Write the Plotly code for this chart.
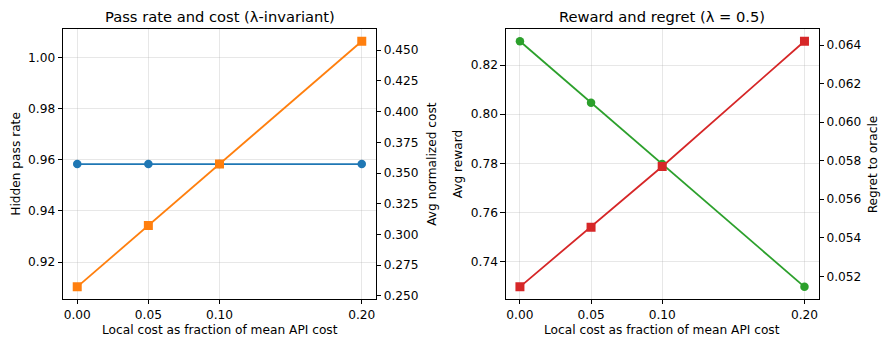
import plotly.graph_objects as go

x_vals = [0.00, 0.05, 0.10, 0.20]
x_ticks = ["0.00", "0.05", "0.10", "0.20"]
pass_rate = [0.9583, 0.9583, 0.9583, 0.9583]
avg_cost = [0.2573, 0.3073, 0.3573, 0.4573]
avg_reward = [0.8297, 0.8047, 0.7797, 0.7297]
regret = [0.05145, 0.05455, 0.05770, 0.06420]

W, H = 881, 341
FONT = "DejaVu Sans"
TICK = 12.2
BLUE, ORANGE, GREEN, RED = "#1f77b4", "#ff7f0e", "#2ca02c", "#d62728"
GRID = "rgba(176,176,176,0.3)"

def px_x(p):
    return p / W

def px_y(p):
    return 1 - p / H

top, bottom = 29.3, 302.7
L = (63.0, 376.0)
R = (505.7, 818.7)

fig = go.Figure()
mk_c = dict(symbol="circle", size=8.5)
mk_s = dict(symbol="square", size=9)
fig.add_trace(go.Scatter(x=x_vals, y=pass_rate, mode="lines+markers", line=dict(color=BLUE, width=1.8),
                         marker=dict(color=BLUE, **mk_c), xaxis="x", yaxis="y", showlegend=False))
fig.add_trace(go.Scatter(x=x_vals, y=avg_cost, mode="lines+markers", line=dict(color=ORANGE, width=1.8),
                         marker=dict(color=ORANGE, **mk_s), xaxis="x", yaxis="y2", showlegend=False))
fig.add_trace(go.Scatter(x=x_vals, y=avg_reward, mode="lines+markers", line=dict(color=GREEN, width=1.8),
                         marker=dict(color=GREEN, **mk_c), xaxis="x2", yaxis="y3", showlegend=False))
fig.add_trace(go.Scatter(x=x_vals, y=regret, mode="lines+markers", line=dict(color=RED, width=1.8),
                         marker=dict(color=RED, **mk_s), xaxis="x2", yaxis="y4", showlegend=False))

def xax(dom, anchor):
    return dict(domain=dom, anchor=anchor, range=[-0.01, 0.21], tickvals=x_vals, ticktext=x_ticks,
                showline=True, linecolor="black", linewidth=1, mirror=True,
                ticks="outside", ticklen=4.3, tickwidth=1, tickcolor="black",
                showgrid=True, gridcolor=GRID, gridwidth=1, zeroline=False,
                tickfont=dict(family=FONT, size=TICK, color="black"))

def yax(rng, tv, fmt, anchor, side="left", overlay=None, grid=True):
    d = dict(domain=[px_y(bottom), px_y(top)], anchor=anchor, range=rng, tickvals=tv,
             ticktext=[fmt.format(v) for v in tv], side=side,
             showline=True, linecolor="black", linewidth=1,
             ticks="outside", ticklen=4.3, tickwidth=1, tickcolor="black",
             showgrid=grid, gridcolor=GRID, gridwidth=1, zeroline=False,
             tickfont=dict(family=FONT, size=TICK, color="black"))
    if overlay:
        d["overlaying"] = overlay
    return d

y1_ticks = [0.92, 0.94, 0.96, 0.98, 1.00]
y2_ticks = [0.250, 0.275, 0.300, 0.325, 0.350, 0.375, 0.400, 0.425, 0.450]
y3_ticks = [0.74, 0.76, 0.78, 0.80, 0.82]
y4_ticks = [0.052, 0.054, 0.056, 0.058, 0.060, 0.062, 0.064]

fig.update_layout(
    width=W, height=H, margin=dict(l=0, r=0, t=0, b=0),
    plot_bgcolor="white", paper_bgcolor="white",
    xaxis=xax([px_x(L[0]), px_x(L[1])], "y"),
    xaxis2=xax([px_x(R[0]), px_x(R[1])], "y3"),
    yaxis=yax([0.9055, 1.0111], y1_ticks, "{:.2f}", "x"),
    yaxis2=yax([0.2473, 0.4673], y2_ticks, "{:.3f}", "x", side="right", overlay="y", grid=False),
    yaxis3=yax([0.7247, 0.8347], y3_ticks, "{:.2f}", "x2"),
    yaxis4=yax([0.05081, 0.06484], y4_ticks, "{:.3f}", "x2", side="right", overlay="y3", grid=False),
)

def ann(text, xp, yp, size=TICK, angle=0):
    fig.add_annotation(text=text, x=px_x(xp), y=px_y(yp), xref="paper", yref="paper",
                       showarrow=False, textangle=angle, xanchor="center", yanchor="middle",
                       font=dict(family=FONT, size=size, color="black"))

mid = (top + bottom) / 2
ann("Pass rate and cost (λ-invariant)", (L[0] + L[1]) / 2, 16.7, size=14.7)
ann("Reward and regret (λ = 0.5)", (R[0] + R[1]) / 2, 16.7, size=14.7)
ann("Local cost as fraction of mean API cost", (L[0] + L[1]) / 2, 333.5)
ann("Local cost as fraction of mean API cost", (R[0] + R[1]) / 2, 333.5)
ann("Hidden pass rate", 15.7, mid, angle=-90)
ann("Avg normalized cost", 431.7, mid, angle=-90)
ann("Avg reward", 458.3, mid, angle=-90)
ann("Regret to oracle", 873.3, mid, angle=-90)

fig.write_html("out.html", config={"displayModeBar": False},
               post_script="document.body.style.margin='0';document.body.style.overflow='hidden';")
